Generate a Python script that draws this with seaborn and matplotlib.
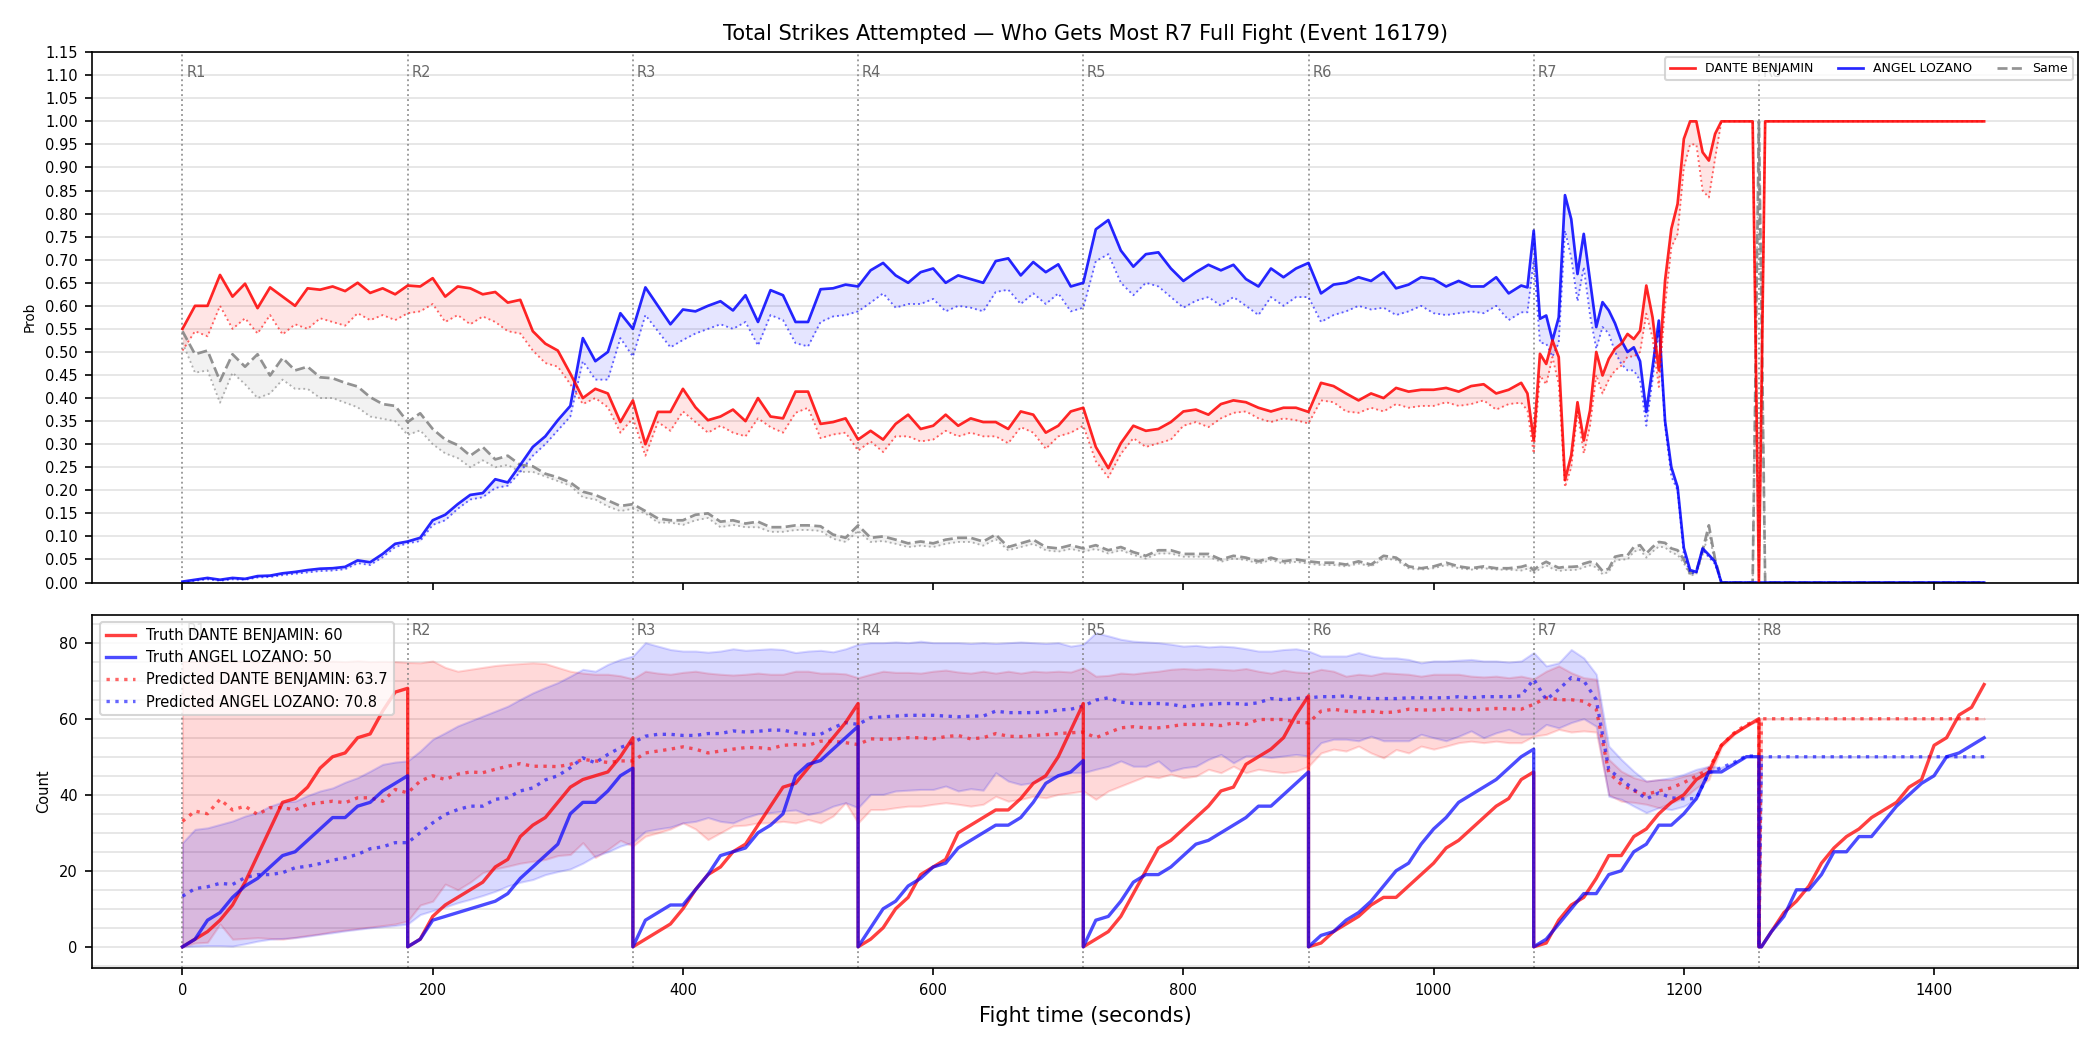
import numpy as np
import matplotlib
matplotlib.use("Agg")
import matplotlib.pyplot as plt
import matplotlib.transforms as mtransforms
from matplotlib.lines import Line2D
from matplotlib.ticker import MultipleLocator, FormatStrFormatter
import seaborn as sns

# ---------------- DATA ----------------
title = "Total Strikes Attempted \u2014 Who Gets Most R7 Full Fight (Event 16179)"
fighter_a = "DANTE BENJAMIN"
fighter_b = "ANGEL LOZANO"
round_starts = [0, 180, 360, 540, 720, 900, 1080, 1260]
round_names = ["R1", "R2", "R3", "R4", "R5", "R6", "R7", "R8"]

# time grid of the probability panel (seconds)
t_top = np.concatenate([np.arange(0, 1061, 10), np.arange(1070, 1266, 5), np.arange(1270, 1441, 10)])

dante_prob = [
    0.55, 0.60, 0.60, 0.667, 0.62, 0.648, 0.595, 0.64, 0.62, 0.60,
    0.638, 0.635, 0.642, 0.632, 0.65, 0.628, 0.638, 0.625, 0.644, 0.642,
    0.66, 0.62, 0.642, 0.638, 0.625, 0.63, 0.607, 0.613, 0.545, 0.518,
    0.503, 0.453, 0.40, 0.42, 0.41, 0.348, 0.395, 0.30, 0.37, 0.37,
    0.42, 0.38, 0.352, 0.36, 0.375, 0.35, 0.40, 0.36, 0.356, 0.414,
    0.414, 0.344, 0.348, 0.356, 0.31, 0.329, 0.31, 0.344, 0.364, 0.333,
    0.34, 0.364, 0.34, 0.356, 0.348, 0.348, 0.333, 0.371, 0.364, 0.325,
    0.34, 0.371, 0.379, 0.294, 0.248, 0.302, 0.34, 0.329, 0.333, 0.348,
    0.371, 0.375, 0.364, 0.387, 0.395, 0.391, 0.379, 0.371, 0.379, 0.379,
    0.37, 0.433, 0.426, 0.41, 0.395, 0.41, 0.40, 0.422, 0.414, 0.418,
    0.418, 0.422, 0.414, 0.426, 0.43, 0.41, 0.418,
    0.433, 0.41, 0.308, 0.496, 0.474, 0.525, 0.489, 0.222, 0.276, 0.391,
    0.308, 0.373, 0.50, 0.449, 0.485, 0.507, 0.518, 0.539, 0.528, 0.546,
    0.644, 0.575, 0.46, 0.655, 0.767, 0.821, 0.962, 1.0, 1.0, 0.933,
    0.915, 0.973, 1.0, 1.0, 1.0, 1.0, 1.0, 1.0, 0.0, 1.0,
    1.0, 1.0, 1.0, 1.0, 1.0, 1.0, 1.0, 1.0, 1.0, 1.0, 1.0, 1.0, 1.0, 1.0, 1.0, 1.0, 1.0, 1.0,
]
dante_prob_low = [
    0.503, 0.545, 0.534, 0.60, 0.55, 0.573, 0.54, 0.58, 0.538, 0.56,
    0.55, 0.573, 0.565, 0.557, 0.584, 0.569, 0.58, 0.569, 0.584, 0.588,
    0.604, 0.565, 0.58, 0.56, 0.577, 0.565, 0.545, 0.54, 0.503, 0.476,
    0.468, 0.43, 0.387, 0.40, 0.38, 0.325, 0.356, 0.275, 0.348, 0.329,
    0.371, 0.348, 0.325, 0.34, 0.325, 0.317, 0.356, 0.337, 0.325, 0.368,
    0.379, 0.313, 0.321, 0.325, 0.286, 0.306, 0.283, 0.317, 0.317, 0.306,
    0.31, 0.329, 0.317, 0.325, 0.317, 0.317, 0.302, 0.337, 0.325, 0.29,
    0.317, 0.325, 0.34, 0.263, 0.228, 0.279, 0.313, 0.294, 0.302, 0.31,
    0.34, 0.348, 0.337, 0.356, 0.368, 0.371, 0.356, 0.348, 0.356, 0.352,
    0.345, 0.395, 0.391, 0.371, 0.368, 0.379, 0.371, 0.387, 0.379, 0.383,
    0.383, 0.391, 0.383, 0.387, 0.395, 0.375, 0.387,
    0.39, 0.373, 0.28, 0.449, 0.43, 0.489, 0.43, 0.207, 0.25, 0.37,
    0.28, 0.34, 0.45, 0.41, 0.44, 0.46, 0.47, 0.49, 0.49, 0.50,
    0.583, 0.53, 0.424, 0.60, 0.727, 0.756, 0.90, 0.95, 0.95, 0.85,
    0.835, 0.92, 1.0, 1.0, 1.0, 1.0, 1.0, 1.0, 0.0, 1.0,
    1.0, 1.0, 1.0, 1.0, 1.0, 1.0, 1.0, 1.0, 1.0, 1.0, 1.0, 1.0, 1.0, 1.0, 1.0, 1.0, 1.0, 1.0,
]
angel_prob = [
    0.002, 0.006, 0.01, 0.006, 0.01, 0.008, 0.014, 0.015, 0.02, 0.023,
    0.027, 0.03, 0.031, 0.034, 0.048, 0.044, 0.062, 0.084, 0.089, 0.097,
    0.135, 0.147, 0.17, 0.19, 0.194, 0.224, 0.217, 0.255, 0.294, 0.317,
    0.352, 0.383, 0.53, 0.48, 0.50, 0.584, 0.55, 0.64, 0.60, 0.56,
    0.592, 0.588, 0.60, 0.61, 0.59, 0.623, 0.565, 0.634, 0.623, 0.565,
    0.565, 0.636, 0.638, 0.646, 0.642, 0.677, 0.693, 0.666, 0.65, 0.673,
    0.681, 0.65, 0.666, 0.658, 0.65, 0.697, 0.703, 0.666, 0.695, 0.673,
    0.69, 0.642, 0.65, 0.766, 0.786, 0.72, 0.685, 0.712, 0.716, 0.681,
    0.654, 0.673, 0.689, 0.677, 0.689, 0.658, 0.642, 0.681, 0.662, 0.681,
    0.693, 0.627, 0.646, 0.65, 0.662, 0.654, 0.673, 0.638, 0.646, 0.662,
    0.658, 0.642, 0.654, 0.642, 0.642, 0.662, 0.627,
    0.644, 0.64, 0.763, 0.572, 0.579, 0.525, 0.575, 0.84, 0.788, 0.669,
    0.756, 0.655, 0.554, 0.608, 0.59, 0.562, 0.525, 0.50, 0.51, 0.48,
    0.37, 0.467, 0.568, 0.35, 0.25, 0.207, 0.075, 0.027, 0.023, 0.074,
    0.06, 0.045, 0.0, 0.0, 0.0, 0.0, 0.0, 0.0, 0.0, 0.0,
    0.0, 0.0, 0.0, 0.0, 0.0, 0.0, 0.0, 0.0, 0.0, 0.0, 0.0, 0.0, 0.0, 0.0, 0.0, 0.0, 0.0, 0.0,
]
angel_prob_low = [
    0.0, 0.004, 0.007, 0.004, 0.007, 0.006, 0.011, 0.012, 0.016, 0.019,
    0.022, 0.025, 0.026, 0.029, 0.042, 0.038, 0.055, 0.077, 0.085, 0.09,
    0.125, 0.135, 0.16, 0.18, 0.185, 0.205, 0.21, 0.24, 0.275, 0.30,
    0.33, 0.36, 0.48, 0.44, 0.44, 0.53, 0.49, 0.58, 0.545, 0.51,
    0.526, 0.54, 0.55, 0.56, 0.55, 0.565, 0.514, 0.58, 0.569, 0.519,
    0.512, 0.565, 0.577, 0.58, 0.588, 0.607, 0.627, 0.596, 0.604, 0.604,
    0.615, 0.588, 0.60, 0.596, 0.588, 0.63, 0.635, 0.604, 0.627, 0.604,
    0.627, 0.588, 0.596, 0.697, 0.712, 0.65, 0.623, 0.65, 0.642, 0.619,
    0.596, 0.611, 0.619, 0.60, 0.619, 0.60, 0.58, 0.619, 0.60, 0.619,
    0.619, 0.565, 0.58, 0.588, 0.60, 0.592, 0.596, 0.58, 0.588, 0.60,
    0.584, 0.58, 0.584, 0.588, 0.584, 0.60, 0.569,
    0.586, 0.586, 0.70, 0.52, 0.518, 0.49, 0.52, 0.763, 0.705, 0.61,
    0.684, 0.58, 0.507, 0.554, 0.54, 0.50, 0.474, 0.46, 0.46, 0.438,
    0.34, 0.44, 0.55, 0.34, 0.23, 0.20, 0.06, 0.02, 0.02, 0.07,
    0.055, 0.04, 0.0, 0.0, 0.0, 0.0, 0.0, 0.0, 0.0, 0.0,
    0.0, 0.0, 0.0, 0.0, 0.0, 0.0, 0.0, 0.0, 0.0, 0.0, 0.0, 0.0, 0.0, 0.0, 0.0, 0.0, 0.0, 0.0,
]
same_prob = [
    0.545, 0.495, 0.503, 0.437, 0.495, 0.468, 0.495, 0.449, 0.487, 0.46,
    0.468, 0.445, 0.443, 0.433, 0.425, 0.402, 0.387, 0.383, 0.348, 0.367,
    0.333, 0.31, 0.298, 0.275, 0.294, 0.267, 0.275, 0.255, 0.252, 0.236,
    0.228, 0.217, 0.197, 0.19, 0.178, 0.166, 0.17, 0.155, 0.139, 0.135,
    0.135, 0.147, 0.15, 0.132, 0.135, 0.128, 0.132, 0.12, 0.12, 0.124,
    0.124, 0.122, 0.104, 0.097, 0.124, 0.097, 0.10, 0.093, 0.085, 0.089,
    0.085, 0.093, 0.097, 0.097, 0.089, 0.104, 0.077, 0.085, 0.093, 0.077,
    0.074, 0.081, 0.074, 0.081, 0.07, 0.077, 0.066, 0.058, 0.07, 0.07,
    0.062, 0.062, 0.062, 0.05, 0.058, 0.054, 0.046, 0.054, 0.046, 0.05,
    0.046, 0.043, 0.043, 0.039, 0.046, 0.039, 0.058, 0.054, 0.035, 0.031,
    0.035, 0.043, 0.035, 0.031, 0.035, 0.031, 0.031,
    0.034, 0.038, 0.027, 0.038, 0.045, 0.038, 0.032, 0.034, 0.034, 0.035,
    0.041, 0.045, 0.041, 0.025, 0.03, 0.056, 0.059, 0.059, 0.077, 0.081,
    0.063, 0.077, 0.088, 0.086, 0.074, 0.07, 0.05, 0.02, 0.025, 0.07,
    0.124, 0.05, 0.0, 0.0, 0.0, 0.0, 0.0, 0.0, 1.0, 0.0,
    0.0, 0.0, 0.0, 0.0, 0.0, 0.0, 0.0, 0.0, 0.0, 0.0, 0.0, 0.0, 0.0, 0.0, 0.0, 0.0, 0.0, 0.0,
]
same_prob_low = [
    0.52, 0.455, 0.46, 0.39, 0.455, 0.43, 0.40, 0.41, 0.44, 0.42,
    0.42, 0.40, 0.40, 0.39, 0.38, 0.36, 0.355, 0.35, 0.32, 0.33,
    0.30, 0.28, 0.27, 0.25, 0.265, 0.25, 0.255, 0.24, 0.24, 0.23,
    0.22, 0.21, 0.185, 0.18, 0.165, 0.155, 0.16, 0.15, 0.13, 0.13,
    0.125, 0.135, 0.14, 0.12, 0.125, 0.12, 0.12, 0.11, 0.11, 0.114,
    0.114, 0.112, 0.095, 0.088, 0.112, 0.088, 0.09, 0.084, 0.077, 0.08,
    0.077, 0.084, 0.088, 0.088, 0.08, 0.094, 0.07, 0.077, 0.084, 0.07,
    0.067, 0.073, 0.067, 0.073, 0.063, 0.07, 0.06, 0.052, 0.063, 0.063,
    0.056, 0.056, 0.056, 0.045, 0.052, 0.049, 0.041, 0.049, 0.041, 0.045,
    0.041, 0.038, 0.038, 0.035, 0.041, 0.035, 0.052, 0.049, 0.031, 0.028,
    0.031, 0.038, 0.031, 0.028, 0.031, 0.028, 0.028,
    0.026, 0.03, 0.02, 0.03, 0.037, 0.03, 0.025, 0.027, 0.027, 0.028,
    0.033, 0.037, 0.033, 0.018, 0.023, 0.047, 0.05, 0.05, 0.067, 0.071,
    0.054, 0.067, 0.078, 0.076, 0.065, 0.06, 0.042, 0.015, 0.018, 0.06,
    0.11, 0.04, 0.0, 0.0, 0.0, 0.0, 0.0, 0.0, 1.0, 0.0,
    0.0, 0.0, 0.0, 0.0, 0.0, 0.0, 0.0, 0.0, 0.0, 0.0, 0.0, 0.0, 0.0, 0.0, 0.0, 0.0, 0.0, 0.0,
]

# count panel: per-round sample offsets (seconds into the round)
round_offsets = [0, 10, 20, 30, 40, 50, 60, 70, 80, 90, 100, 110, 120, 130, 140, 150, 160, 170, 180]
last_round_offsets = [0, 2, 10, 20, 30, 40, 50, 60, 70, 80, 90, 100, 110, 120, 130, 140, 150, 160, 170, 180]

truth_dante = [
    [0, 2, 4, 7, 11, 17, 24, 31, 38, 39, 42, 47, 50, 51, 55, 56, 62, 67, 68],
    [0, 2, 8, 11, 13, 15, 17, 21, 23, 29, 32, 34, 38, 42, 44, 45, 46, 50, 55],
    [0, 2, 4, 6, 10, 15, 19, 21, 25, 27, 32, 37, 42, 43, 47, 51, 55, 59, 64],
    [0, 2, 5, 10, 13, 19, 21, 23, 30, 32, 34, 36, 36, 39, 43, 45, 50, 57, 64],
    [0, 2, 4, 8, 14, 20, 26, 28, 31, 34, 37, 41, 42, 48, 50, 52, 55, 61, 66],
    [0, 1, 4, 6, 8, 11, 13, 13, 16, 19, 22, 26, 28, 31, 34, 37, 39, 44, 46],
    [0, 1, 7, 11, 13, 18, 24, 24, 29, 31, 35, 38, 40, 44, 46, 53, 56, 58, 60],
    [0, 0, 4, 9, 12, 16, 22, 26, 29, 31, 34, 36, 38, 42, 44, 53, 55, 61, 63, 69],
]
truth_angel = [
    [0, 2, 7, 9, 13, 16, 18, 21, 24, 25, 28, 31, 34, 34, 37, 38, 41, 43, 45],
    [0, 2, 7, 8, 9, 10, 11, 12, 14, 18, 21, 24, 27, 35, 38, 38, 41, 45, 47],
    [0, 7, 9, 11, 11, 15, 19, 24, 25, 26, 30, 32, 35, 45, 48, 49, 52, 55, 58],
    [0, 5, 10, 12, 16, 18, 21, 22, 26, 28, 30, 32, 32, 34, 38, 43, 45, 46, 49],
    [0, 7, 8, 12, 17, 19, 19, 21, 24, 27, 28, 30, 32, 34, 37, 37, 40, 43, 46],
    [0, 3, 4, 7, 9, 12, 16, 20, 22, 27, 31, 34, 38, 40, 42, 44, 47, 50, 52],
    [0, 2, 6, 10, 14, 14, 19, 20, 25, 27, 32, 32, 35, 39, 46, 46, 48, 50, 50],
    [0, 0, 4, 8, 15, 15, 19, 25, 25, 29, 29, 33, 37, 40, 43, 45, 50, 51, 53, 55],
]
pred_dante = [
    [33, 35.7, 35, 38.8, 36, 37, 34.8, 36.6, 36.6, 36, 37.5, 37.9, 38.3, 37.9, 39.2, 39.2, 38.3, 41.4, 40.5],
    [40.5, 43.6, 45, 44, 45.4, 46, 45.8, 46.7, 47.5, 48.2, 47.5, 47.5, 47.4, 48, 49.3, 48.9, 48.5, 48.9, 48.9],
    [48.9, 51, 51.5, 52, 52.6, 52, 51, 51.5, 52, 52.4, 52.4, 52.1, 53, 53.2, 53, 54.1, 54.1, 53.7, 53.2],
    [53.2, 54.7, 54.6, 54.7, 55, 55, 54.7, 55.3, 55.6, 54.7, 55, 56.1, 55.4, 55.3, 55.6, 55.8, 56.1, 56.3, 56.5],
    [56.5, 55, 56.3, 57.6, 57.9, 57.6, 57.6, 58, 58.5, 58.5, 58.5, 58.2, 58.9, 58.5, 59.8, 59.8, 59.8, 59.1, 58.9],
    [58.9, 62, 62.5, 62, 61.8, 62, 61.6, 61.8, 62.5, 62.3, 62.3, 62.5, 62.5, 62.3, 62.5, 62.7, 62.6, 62.5, 63.8],
    [63.8, 65.5, 65, 65, 64.6, 62.5, 45.8, 42.7, 41, 40.1, 41, 41.8, 43.2, 44.9, 46.7, 53, 56.2, 58.5, 59.5],
    [0, 60, 60, 60, 60, 60, 60, 60, 60, 60, 60, 60, 60, 60, 60, 60, 60, 60, 60, 60],
]
pred_angel = [
    [13.3, 15.3, 15.8, 16.7, 16.4, 18.2, 19, 19, 19.5, 20.8, 21.2, 21.9, 22.8, 23.4, 24.3, 25.8, 26.3, 27.4, 27.4],
    [27.4, 30, 32.6, 34.8, 36.1, 37, 37, 38.8, 39.2, 41, 41.8, 43.9, 45, 47.1, 49.7, 48.4, 50.6, 52.4, 53.7],
    [53.7, 55.4, 55.9, 55.9, 55.6, 55.6, 56.1, 56.1, 56.8, 56.5, 56.7, 57, 57, 56.3, 55.9, 55.9, 57.6, 59, 58.5],
    [58.5, 60.3, 60.5, 60.7, 60.9, 60.9, 60.9, 60.7, 60.5, 60.7, 60.7, 62, 61.6, 61.6, 61.6, 61.8, 62.3, 62.5, 63.3],
    [63.3, 64.9, 65.5, 64.4, 64, 64, 64, 63.8, 63.2, 63.5, 63.8, 64, 64, 63.8, 64.2, 65.3, 65, 65.3, 65.5],
    [65.5, 65.8, 65.8, 66, 65.5, 65.3, 65.3, 65.3, 65.5, 65.5, 65.5, 65.5, 65.8, 65.5, 65.8, 65.8, 65.8, 66, 70.4],
    [70.4, 65, 67.7, 70.8, 70, 65, 46.7, 44, 41.4, 38.9, 40.5, 39.2, 38.9, 39, 45.8, 47.1, 48.5, 50.2, 50.2],
    [0, 50, 50, 50, 50, 50, 50, 50, 50, 50, 50, 50, 50, 50, 50, 50, 50, 50, 50, 50],
]
dante_hi = [
    [75, 75.2, 75, 75.5, 75, 75.3, 75, 75.2, 75, 75, 75.4, 75, 75.2, 75, 75.3, 75, 75.1, 75, 74.8],
    [74.8, 74.7, 75.2, 73.5, 72.5, 73, 73.5, 74, 74.3, 74.5, 74.7, 74.5, 73.5, 72.5, 72, 71.7, 71.7, 71.3, 70.5],
    [70.5, 72.5, 72, 71.7, 72.2, 72.5, 72, 71.7, 71.5, 71.7, 72, 71.7, 71.7, 72.5, 72.5, 72, 72, 71.8, 70.8],
    [70.8, 71.7, 72.5, 72.2, 72.2, 72, 72.5, 72.8, 72.3, 72, 72.5, 72, 72.5, 72, 72.5, 72.3, 72.5, 72.3, 73.4],
    [73.4, 71.2, 71.4, 72, 71.8, 72.2, 72.5, 73, 73.2, 73, 73.2, 73, 72.8, 73.2, 72.5, 72, 72.8, 72.3, 72.1],
    [72.1, 73, 72.5, 71.2, 71.7, 71.4, 72.1, 71.9, 71.7, 71.2, 71.7, 71.7, 71.7, 71.2, 71, 71.2, 70.8, 71.2, 70.5],
    [70.5, 72.5, 73.9, 72.1, 70.8, 70.4, 49.3, 46.2, 44.5, 43.6, 44, 44, 44.9, 45.8, 47.5, 53, 56.2, 58.5, 59.5],
    [0, 60, 60, 60, 60, 60, 60, 60, 60, 60, 60, 60, 60, 60, 60, 60, 60, 60, 60, 60],
]
dante_lo = [
    [0, 1, 1.2, 6, 2, 2.2, 2.4, 2.2, 2, 2.5, 3, 3.4, 4, 4.4, 4.8, 5.2, 5.6, 6, 6.8],
    [6.8, 11, 12, 16.5, 15, 17, 19.5, 20.5, 21.2, 22, 22.5, 23, 24, 24.3, 27.4, 23.5, 25.6, 28, 26.5],
    [26.5, 29.1, 30, 31, 32.6, 31, 28.2, 30, 31.8, 32, 32.6, 32.6, 33, 32.6, 33.5, 32.6, 34.4, 37.9, 32.6],
    [32.6, 36.1, 36.1, 36.6, 37, 37, 37.5, 37.9, 37.5, 37, 37.5, 39.6, 38.3, 38.8, 39.6, 39.2, 40.1, 40.5, 41],
    [41, 38.8, 41, 42.3, 43.6, 44.9, 44.5, 45.4, 44.5, 44.9, 46.7, 45.8, 47.5, 45.8, 46.7, 46.2, 45.8, 46.2, 47.5],
    [47.5, 51, 52, 51.5, 52.8, 51, 49.7, 51.9, 51, 52.8, 52, 52.8, 53.7, 54.1, 53.7, 54.1, 53.7, 53.7, 55.4],
    [55.4, 55.9, 57.2, 56.5, 56.8, 56.5, 40, 38.3, 38, 37.5, 36.6, 37.9, 39.2, 41.8, 44, 52.5, 55.8, 58.2, 59.5],
    [0, 60, 60, 60, 60, 60, 60, 60, 60, 60, 60, 60, 60, 60, 60, 60, 60, 60, 60, 60],
]
angel_hi = [
    [27.4, 30.9, 31.3, 32.2, 33.1, 34.4, 35.3, 37, 38.1, 38.3, 39.8, 41, 41.8, 43.3, 44.5, 46.2, 48, 48.6, 48.9],
    [48.9, 51.5, 54.6, 56.3, 58.1, 59.4, 60.7, 62, 63.3, 65.1, 66.8, 68.2, 69.5, 71.2, 73, 72.5, 74.3, 75.6, 76.5],
    [76.5, 80, 79.1, 78.2, 77.8, 77.8, 77.5, 77.8, 78.4, 78, 78.2, 78.4, 78.2, 77.4, 77.8, 78, 77.6, 78.4, 79.6],
    [79.6, 80, 80, 80.2, 80, 80.4, 80, 80, 80, 79.8, 80, 79.8, 80, 80.2, 80, 79.8, 80, 79.1, 79.6],
    [79.6, 82.6, 81.8, 80.9, 80.4, 80.2, 80, 79.6, 79.1, 79.3, 78.9, 79.1, 78.9, 78.4, 77.8, 77.8, 78.2, 78.4, 77.8],
    [77.8, 76.5, 76.5, 76.5, 77.4, 76.5, 76, 76, 75.6, 74.7, 75.2, 75.2, 75.4, 75.6, 75.2, 75.2, 74.9, 75.2, 77.4],
    [77.4, 73.9, 74.7, 78.2, 76, 71.7, 52.8, 49.3, 46.2, 43.6, 44, 44.5, 45.4, 46.7, 47.5, 47.2, 48.5, 50.2, 50.2],
    [0, 50, 50, 50, 50, 50, 50, 50, 50, 50, 50, 50, 50, 50, 50, 50, 50, 50, 50, 50],
]
angel_lo = [
    [0, 0.2, 0.3, 0.3, 0.2, 0.8, 1.5, 2, 2.2, 2.4, 2.8, 3.3, 3.7, 4.2, 4.6, 5, 5.3, 5.6, 6],
    [6, 8.5, 9.5, 10.5, 11.6, 12.5, 13.5, 14.6, 16, 17, 17.7, 19, 19.8, 20.5, 22, 23.9, 25, 26.5, 27.5],
    [27.5, 30.4, 31, 31.5, 32.6, 33, 34, 33, 32.6, 34, 35, 35.3, 35.7, 36, 34.8, 35.5, 37, 37.9, 36.6],
    [36.6, 40.1, 40.1, 41, 41.2, 41.4, 41.4, 42.3, 41, 41.6, 41.2, 45.8, 43.6, 42.7, 43.2, 44.5, 44.9, 45.8, 45.8],
    [45.8, 46.7, 47.5, 48.9, 47.5, 47.5, 48.9, 46.2, 47.1, 47.5, 49.3, 50.6, 48.4, 50.2, 50.2, 49.8, 50.2, 50.6, 50.2],
    [50.2, 53.7, 54.6, 54.6, 54.2, 55.4, 54.2, 54.2, 54.2, 55.9, 55, 54.2, 55.4, 56.8, 55, 56.3, 57.2, 55.9, 56],
    [56, 58.5, 57.6, 59, 60, 58, 39.6, 38.8, 37, 35.3, 36.6, 36.1, 37, 38.8, 45.8, 47, 48.5, 50.2, 50.2],
    [0, 50, 50, 50, 50, 50, 50, 50, 50, 50, 50, 50, 50, 50, 50, 50, 50, 50, 50, 50],
]
truth_final_dante = 60
truth_final_angel = 50
pred_label_dante = 63.7
pred_label_angel = 70.8

# ---------------- HELPERS ----------------
def flat(rounds):
    return np.array([v for r in rounds for v in r], dtype=float)

t_bot = np.array([s + o for i, s in enumerate(round_starts)
                  for o in (last_round_offsets if i == len(round_starts) - 1 else round_offsets)], dtype=float)

RED, BLUE, GRAY = "red", "blue", "gray"

fig = plt.figure(figsize=(14, 7), dpi=150)
ax1 = fig.add_axes([0.044, 0.4452, 0.9455, 0.5051])
ax2 = fig.add_axes([0.044, 0.078, 0.9455, 0.3367], sharex=ax1)

# ---------------- TOP: probabilities ----------------
t_top = np.asarray(t_top, dtype=float)
for hi, lo, col, ls in [(same_prob, same_prob_low, GRAY, "--"),
                        (angel_prob, angel_prob_low, BLUE, "-"),
                        (dante_prob, dante_prob_low, RED, "-")]:
    ax1.fill_between(t_top, lo, hi, color=col, alpha=0.1, linewidth=0)
    sns.lineplot(x=t_top, y=np.asarray(lo), ax=ax1, color=col, linewidth=0.9, linestyle=":",
                 alpha=0.6, estimator=None, sort=False)
    sns.lineplot(x=t_top, y=np.asarray(hi), ax=ax1, color=col, linewidth=1.3, linestyle=ls,
                 alpha=0.85, estimator=None, sort=False)

ax1.set_ylim(0, 1.15)
ax1.yaxis.set_major_locator(MultipleLocator(0.05))
ax1.yaxis.set_major_formatter(FormatStrFormatter("%.2f"))
ax1.yaxis.grid(True, color="#e3e3e3", linewidth=0.8)
ax1.set_axisbelow(True)
ax1.tick_params(axis="y", labelsize=7)
ax1.tick_params(axis="x", labelbottom=False)
ax1.set_ylabel("Prob", fontsize=6.5)
ax1.set_xlabel("")
ax1.set_title(title, fontsize=10)

top_handles = [Line2D([], [], color=RED, lw=1.3, alpha=0.85),
               Line2D([], [], color=BLUE, lw=1.3, alpha=0.85),
               Line2D([], [], color=GRAY, lw=1.3, ls="--", alpha=0.85)]
ax1.legend(top_handles, [fighter_a, fighter_b, "Same"], loc="upper right", ncol=3,
           fontsize=6, borderaxespad=0.4)

# ---------------- BOTTOM: counts ----------------
ax2.fill_between(t_bot, flat(dante_lo), flat(dante_hi), color=RED, alpha=0.15)
ax2.fill_between(t_bot, flat(angel_lo), flat(angel_hi), color=BLUE, alpha=0.15)
sns.lineplot(x=t_bot, y=flat(pred_dante), ax=ax2, color=RED, linewidth=1.6, linestyle=":",
             alpha=0.6, estimator=None, sort=False)
sns.lineplot(x=t_bot, y=flat(pred_angel), ax=ax2, color=BLUE, linewidth=1.6, linestyle=":",
             alpha=0.6, estimator=None, sort=False)
sns.lineplot(x=t_bot, y=flat(truth_dante), ax=ax2, color=RED, linewidth=1.6,
             alpha=0.75, estimator=None, sort=False)
sns.lineplot(x=t_bot, y=flat(truth_angel), ax=ax2, color=BLUE, linewidth=1.6,
             alpha=0.7, estimator=None, sort=False)

ax2.set_ylim(-5.6, 87.4)
ax2.yaxis.set_major_locator(MultipleLocator(20))
ax2.yaxis.set_minor_locator(MultipleLocator(5))
ax2.grid(axis="y", which="both", color="#e3e3e3", linewidth=0.8)
ax2.set_axisbelow(True)
ax2.tick_params(axis="y", which="minor", length=0)
ax2.tick_params(axis="both", which="major", labelsize=7)
ax2.set_ylabel("Count", fontsize=7)
ax2.set_xlabel("Fight time (seconds)", fontsize=10)

bot_handles = [Line2D([], [], color=RED, lw=1.6, alpha=0.75),
               Line2D([], [], color=BLUE, lw=1.6, alpha=0.7),
               Line2D([], [], color=RED, lw=1.6, ls=":", alpha=0.6),
               Line2D([], [], color=BLUE, lw=1.6, ls=":", alpha=0.6)]
bot_labels = [f"Truth {fighter_a}: {truth_final_dante}",
              f"Truth {fighter_b}: {truth_final_angel}",
              f"Predicted {fighter_a}: {pred_label_dante}",
              f"Predicted {fighter_b}: {pred_label_angel}"]

# round markers
for ax in (ax1, ax2):
    trans = mtransforms.blended_transform_factory(ax.transData, ax.transAxes)
    for s, name in zip(round_starts, round_names):
        ax.axvline(s, color="gray", linestyle=":", linewidth=0.9, alpha=0.8, zorder=1)
        ax.text(s + 3, 0.975, name, transform=trans, ha="left", va="top",
                fontsize=7, color="dimgray")

ax2.legend(bot_handles, bot_labels, loc="upper left", fontsize=7)
ax1.set_xlim(-72, 1515)

fig.savefig("out.png", dpi=150)
